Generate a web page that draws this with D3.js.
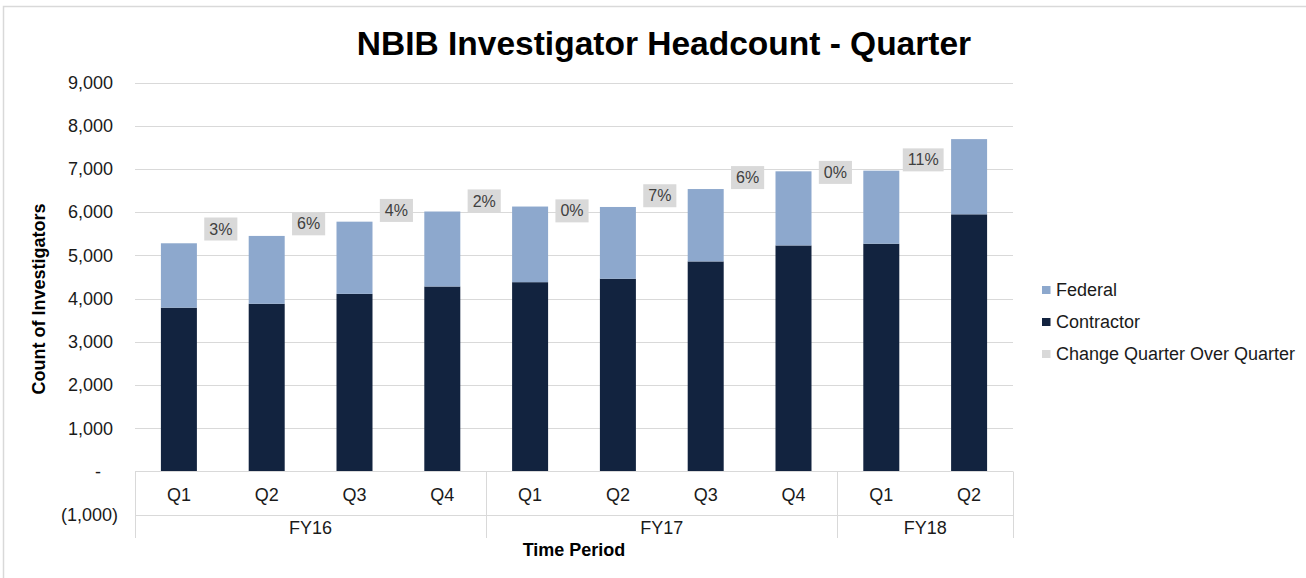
<!DOCTYPE html>
<html>
<head>
<meta charset="utf-8">
<script src="https://cdn.jsdelivr.net/npm/d3@7"></script>
<style>
  html, body { margin: 0; padding: 0; background: #fff; }
  svg { display: block; font-family: "Liberation Sans", Arial, sans-serif; }
</style>
</head>
<body>
<svg id="chart" width="1306" height="578"></svg>
<script>
// ---- data ----
const quarters = ["Q1", "Q2", "Q3", "Q4", "Q1", "Q2", "Q3", "Q4", "Q1", "Q2"];
const fiscalYears = ["FY16", "FY16", "FY16", "FY16", "FY17", "FY17", "FY17", "FY17", "FY18", "FY18"];
const contractor = [3790, 3880, 4110, 4280, 4380, 4460, 4860, 5230, 5270, 5950];
const federal = [1490, 1570, 1670, 1735, 1750, 1660, 1675, 1715, 1690, 1740];
const changeLabels = [null, "3%", "6%", "4%", "2%", "0%", "7%", "6%", "0%", "11%"];
const changeLabelValue = [null, 5610, 5730, 6040, 6260, 6030, 6380, 6800, 6920, 7210];
const yTicks = [-1000, 0, 1000, 2000, 3000, 4000, 5000, 6000, 7000, 8000, 9000];
const seriesNames = ["Federal", "Contractor", "Change Quarter Over Quarter"];
const colors = { Federal: "#8DA8CD", Contractor: "#12233F", Change: "#D9D9D9" };

const svg = d3.select("#chart");
const W = 1306, H = 578;
const left = 135, right = 1013;

// border
svg.append("rect").attr("x", 3.5).attr("y", 6.5).attr("width", 1320).attr("height", 600)
  .attr("fill", "none").attr("stroke", "#D9D9D9").attr("stroke-width", 1.5);

const idx = d3.range(quarters.length);
const x = d3.scaleBand().domain(idx).range([left, right]).paddingInner(0.59).paddingOuter(0.295);
const y = d3.scaleLinear().domain([-1000, 9000]).range([514.7, 82.5]);

// gridlines
svg.append("g").selectAll("line").data(yTicks.filter(v => v > 0)).join("line")
  .attr("x1", left).attr("x2", right)
  .attr("y1", d => Math.round(y(d)) + 0.5).attr("y2", d => Math.round(y(d)) + 0.5)
  .attr("stroke", "#D9D9D9").attr("stroke-width", 1);

// y axis labels
const yAxis = d3.axisLeft(y).tickValues(yTicks).tickSize(0).tickPadding(0)
  .tickFormat(d => d === 0 ? "-" : d < 0 ? "(" + d3.format(",")(-d) + ")" : d3.format(",")(d));
const gy = svg.append("g").attr("transform", "translate(113,0)").call(yAxis);
gy.select(".domain").remove();
gy.selectAll("text").attr("font-size", 18).attr("fill", "#1A1A1A")
  .attr("font-family", "Liberation Sans, Arial, sans-serif")
  .attr("dx", d => d === 0 ? -12 : d < 0 ? 5 : 0);

// bars
const stackData = idx.map(i => ({ i, Contractor: contractor[i], Federal: federal[i] }));
const stack = d3.stack().keys(["Contractor", "Federal"])(stackData);
svg.append("g").selectAll("g").data(stack).join("g")
  .attr("fill", d => colors[d.key])
  .selectAll("rect").data(d => d).join("rect")
  .attr("x", d => x(d.data.i)).attr("width", x.bandwidth())
  .attr("y", d => y(d[1])).attr("height", d => y(d[0]) - y(d[1]));

// change labels
const lg = svg.append("g");
idx.forEach(i => {
  if (!changeLabels[i]) return;
  const cx = x(i) - (x.step() - x.bandwidth()) / 2 - 2;
  const cy = y(changeLabelValue[i]);
  const g = lg.append("g");
  const t = g.append("text").attr("x", cx).attr("y", cy).attr("dy", "0.35em")
    .attr("text-anchor", "middle").attr("font-size", 16).attr("fill", "#404040")
    .text(changeLabels[i]);
  const bb = t.node().getBBox();
  g.insert("rect", "text").attr("x", cx - bb.width / 2 - 5).attr("y", cy - 11.5)
    .attr("width", bb.width + 10).attr("height", 23).attr("fill", colors.Change);
});

// x axis table
const tbl = svg.append("g").attr("stroke", "#D9D9D9").attr("stroke-width", 1);
const y0 = Math.round(y(0)) + 0.5, y1 = Math.round(y(-1000)) + 0.5, yb = 538;
tbl.append("line").attr("x1", left).attr("x2", right).attr("y1", y0).attr("y2", y0);
tbl.append("line").attr("x1", left).attr("x2", right).attr("y1", y1).attr("y2", y1);
const groups = d3.groups(idx, i => fiscalYears[i]);
const seps = [left, ...groups.map(g => x(g[1][g[1].length - 1]) + x.bandwidth() + (x.step() - x.bandwidth()) / 2)];
seps.forEach(s => tbl.append("line").attr("x1", Math.round(s) + 0.5).attr("x2", Math.round(s) + 0.5)
  .attr("y1", y0).attr("y2", yb));

svg.append("g").selectAll("text").data(idx).join("text")
  .attr("x", i => x(i) + x.bandwidth() / 2).attr("y", 501)
  .attr("text-anchor", "middle").attr("font-size", 18).attr("fill", "#1A1A1A")
  .text(i => quarters[i]);
svg.append("g").selectAll("text").data(groups).join("text")
  .attr("x", g => (x(g[1][0]) + x(g[1][g[1].length - 1]) + x.bandwidth()) / 2).attr("y", 534)
  .attr("text-anchor", "middle").attr("font-size", 18).attr("fill", "#1A1A1A")
  .text(g => g[0]);

// axis titles
svg.append("text").attr("x", 574).attr("y", 556).attr("text-anchor", "middle")
  .attr("font-size", 18).attr("font-weight", "bold").attr("fill", "#000").text("Time Period");
svg.append("text").attr("transform", "translate(45,299) rotate(-90)").attr("text-anchor", "middle")
  .attr("font-size", 18).attr("font-weight", "bold").attr("fill", "#000").text("Count of Investigators");

// title
svg.append("text").attr("x", 664).attr("y", 55).attr("text-anchor", "middle")
  .attr("font-size", 33.5).attr("font-weight", "bold").attr("fill", "#000")
  .text("NBIB Investigator Headcount - Quarter");

// legend
const legColors = [colors.Federal, colors.Contractor, colors.Change];
const leg = svg.append("g").selectAll("g").data(seriesNames).join("g")
  .attr("transform", (d, i) => `translate(1042,${290 + i * 32})`);
leg.append("rect").attr("x", 0).attr("y", -4).attr("width", 8.5).attr("height", 8)
  .attr("fill", (d, i) => legColors[i]);
leg.append("text").attr("x", 14).attr("y", 0).attr("dy", "0.35em")
  .attr("font-size", 18).attr("fill", "#1A1A1A").text(d => d);
</script>
</body>
</html>
